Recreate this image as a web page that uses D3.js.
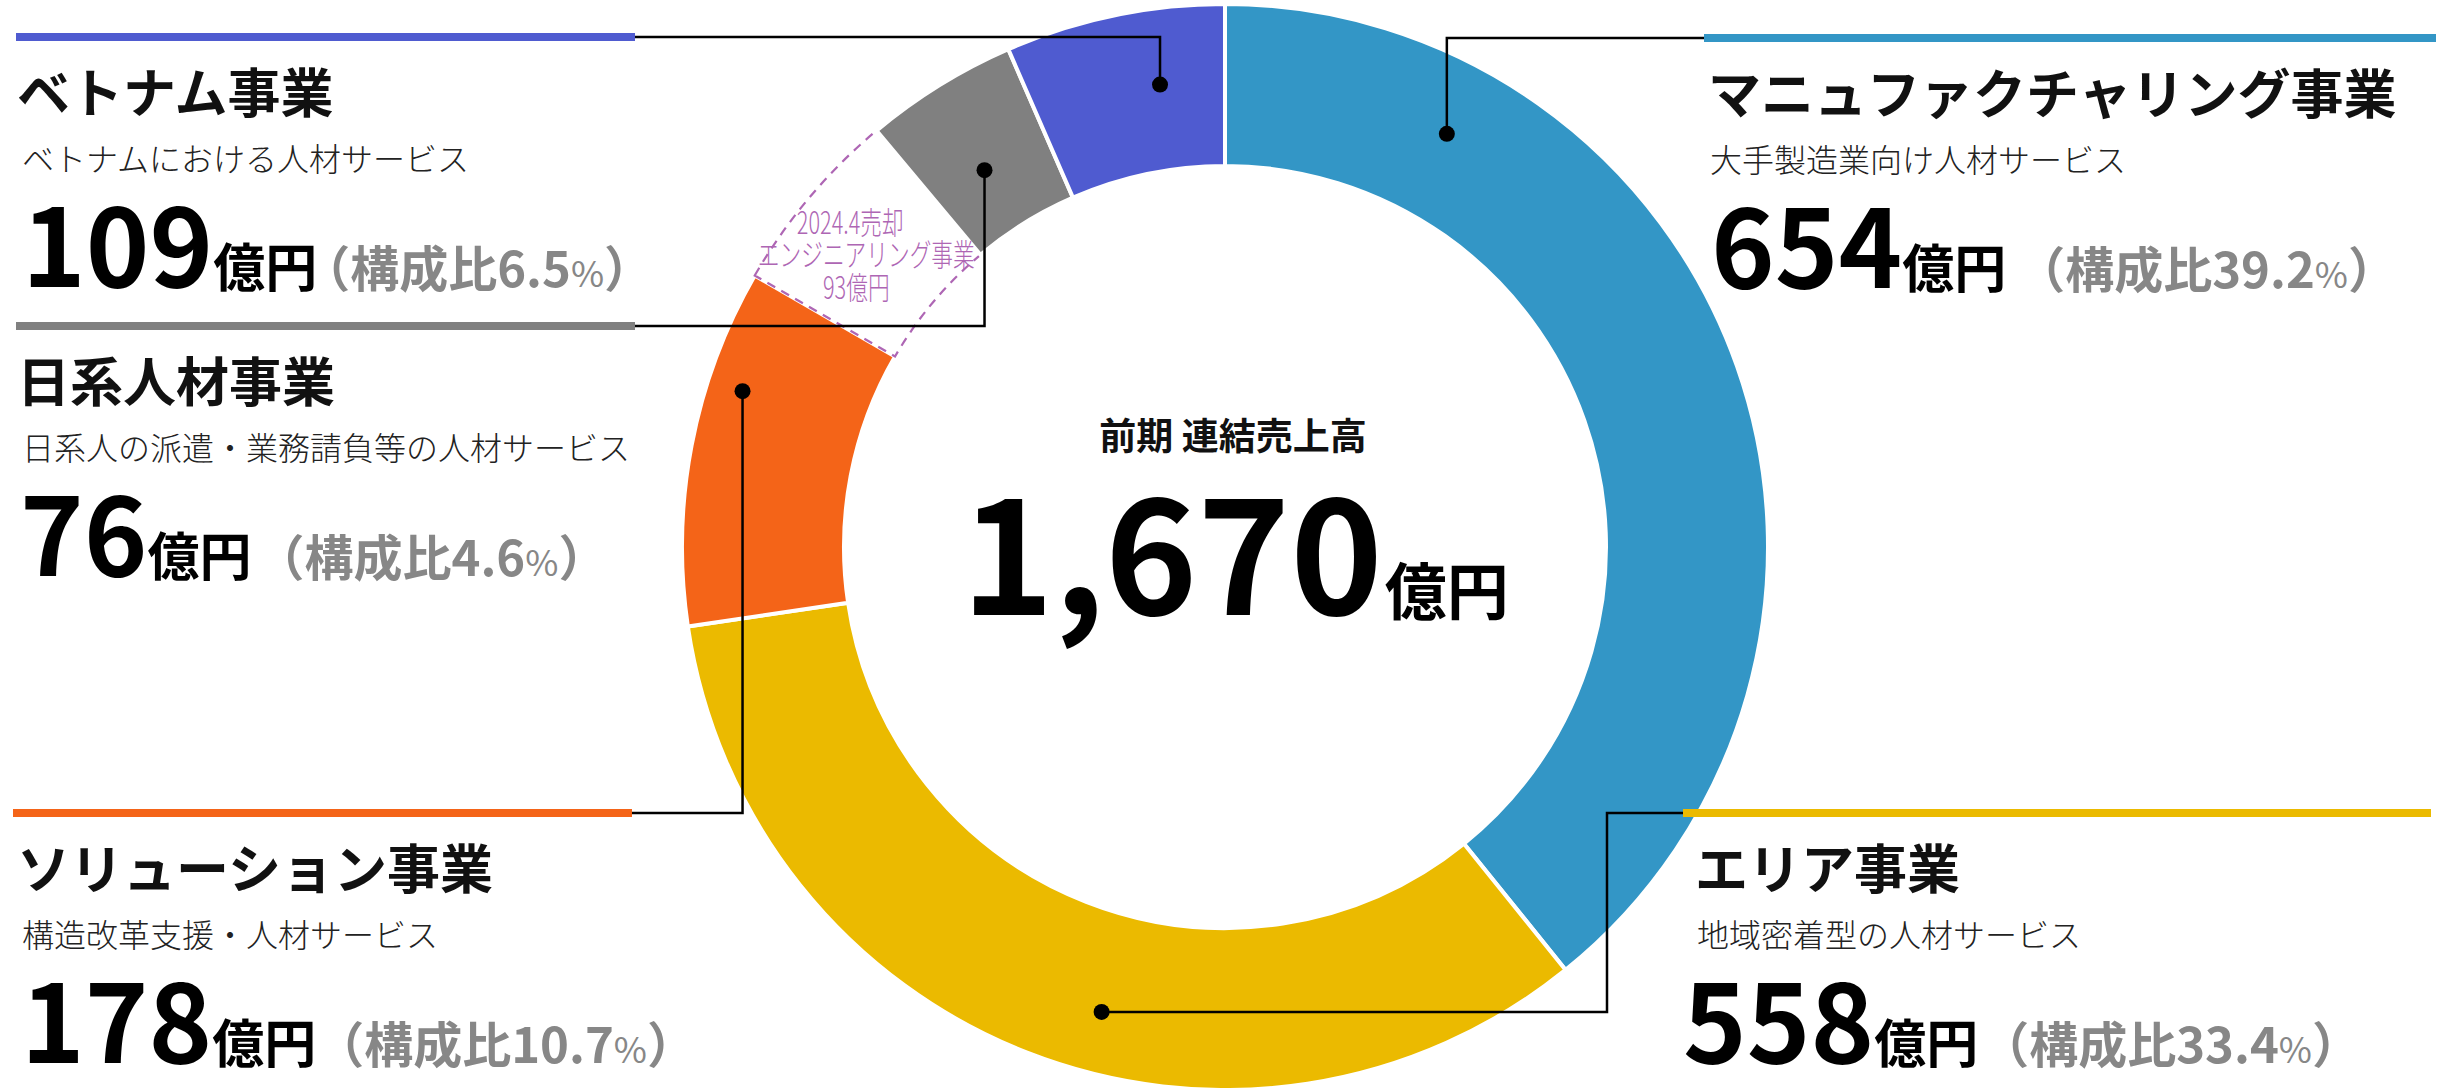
<!DOCTYPE html>
<html lang="ja">
<head>
<meta charset="utf-8">
<title>前期 連結売上高 セグメント構成</title>
<script src="https://cdn.jsdelivr.net/npm/d3@7"></script>
<style>
  html, body { margin: 0; padding: 0; background: #fff; }
  svg { display: block; font-family: "Noto Sans CJK JP", "Noto Sans", sans-serif; }
</style>
</head>
<body>
<svg id="chart" width="2445" height="1088"></svg>
<script>
// ---- data (億円) ----
const segmentNames = ["マニュファクチャリング事業", "エリア事業", "ソリューション事業", "エンジニアリング事業", "日系人材事業", "ベトナム事業"];
const salesOku = [654, 558, 178, 93, 76, 109];
const sharePct = [39.2, 33.4, 10.7, null, 4.6, 6.5];
const descriptions = ["大手製造業向け人材サービス", "地域密着型の人材サービス", "構造改革支援・人材サービス", null, "日系人の派遣・業務請負等の人材サービス", "ベトナムにおける人材サービス"];
const soldSegment = [false, false, false, true, false, false];
const soldNote = "2024.4売却";
const totalTitle = "前期 連結売上高";
const totalOku = 1670;
const unit = "億円";

// ---- styles ----
const colors = ["#3396C6", "#EBBA00", "#F46418", "#FFFFFF", "#808080", "#4F5BD0"];
const soldColor = "#AE66B4";
const shareColor = "#878787";

// ---- layout ----
const W = 2445, H = 1088;
const cx = 1225, cy = 547, rOuter = 543, rInner = 381;

// where each callout sits; anchor = [fraction along the slice, radius]
const labelLayout = [
  { side: "right", barX: [1704, 2436], barY: 38,  titleX: 1708, subX: 1710, valueX: 1711, shareDX: 10,  anchor: [0.20, 469] },
  { side: "right", barX: [1683, 2431], barY: 813, titleX: 1695, subX: 1697, valueX: 1683, shareDX: 2,   anchor: [0.446, 481], elbowX: 1607 },
  { side: "left",  barX: [13, 632],    barY: 813, titleX: 17,   subX: 22,   valueX: 21,   shareDX: -1,  anchor: [0.685, 507] },
  null,
  { side: "left",  barX: [16, 635],    barY: 326, titleX: 17,   subX: 22,   valueX: 20,   shareDX: 4,   anchor: [0.45, 447] },
  { side: "left",  barX: [16, 635],    barY: 37,  titleX: 17,   subX: 22,   valueX: 22,   shareDX: -16, anchor: [0.66, 467] }
];

const svg = d3.select("#chart");
const fmtShare = d3.format(".1f");

const rows = segmentNames.map((name, i) => ({
  name, value: salesOku[i], share: sharePct[i], desc: descriptions[i],
  sold: soldSegment[i], color: colors[i], layout: labelLayout[i]
}));

const pie = d3.pie().value(d => d.value).sort(null);
const arcs = pie(rows);
const arc = d3.arc().innerRadius(rInner).outerRadius(rOuter);

// ---- donut ----
const ring = svg.append("g").attr("transform", `translate(${cx},${cy})`);
ring.selectAll("path.slice")
  .data(arcs)
  .join("path")
  .attr("class", "slice")
  .attr("d", arc)
  .attr("fill", d => d.data.color)
  .attr("stroke", d => d.data.sold ? soldColor : "#fff")
  .attr("stroke-width", d => d.data.sold ? 2.2 : 4)
  .attr("stroke-dasharray", d => d.data.sold ? "9 7" : null)
  .attr("stroke-linejoin", "miter");

// note inside the divested slice
arcs.filter(d => d.data.sold).forEach(d => {
  const [mx, my] = arc.centroid(d);
  const sx = 0.7;
  const g = ring.append("g")
    .attr("transform", `translate(${mx - 15},${my}) scale(${sx},1)`)
    .attr("fill", soldColor)
    .attr("font-size", 31)
    .attr("font-weight", 300)
    .attr("text-anchor", "middle");
  const lines = [soldNote, d.data.name, d.data.value + unit];
  const offsets = [-16, 16, 49];
  const shifts = [-6, 10, 0];
  lines.forEach((t, k) => {
    g.append("text").attr("x", shifts[k] / sx).attr("y", offsets[k]).text(t);
  });
});

// ---- callouts ----
function anchorPoint(d) {
  const [t, r] = d.data.layout.anchor;
  const a = d.startAngle + (d.endAngle - d.startAngle) * t;
  return [cx + r * Math.sin(a), cy - r * Math.cos(a)];
}

const callouts = arcs.filter(d => d.data.layout);
const line = d3.line();

callouts.forEach(d => {
  const L = d.data.layout;
  const [px, py] = anchorPoint(d);
  const barInner = L.side === "left" ? L.barX[1] : L.barX[0];
  const pts = L.elbowX !== undefined
    ? [[px, py], [L.elbowX, py], [L.elbowX, L.barY], [barInner, L.barY]]
    : [[px, py], [px, L.barY], [barInner, L.barY]];

  svg.append("path")
    .attr("d", line(pts))
    .attr("fill", "none")
    .attr("stroke", "#000")
    .attr("stroke-width", 2.5);

  svg.append("circle")
    .attr("cx", px).attr("cy", py).attr("r", 8)
    .attr("fill", "#000");

  // colour bar
  svg.append("rect")
    .attr("x", L.barX[0]).attr("y", L.barY - 4)
    .attr("width", L.barX[1] - L.barX[0]).attr("height", 8)
    .attr("fill", d.data.color);

  // segment name
  svg.append("text")
    .attr("x", L.titleX).attr("y", L.barY + 76)
    .attr("font-size", 53).attr("font-weight", 700).attr("fill", "#111")
    .text(d.data.name);

  // description
  svg.append("text")
    .attr("x", L.subX).attr("y", L.barY + 134)
    .attr("font-size", 32).attr("font-weight", 300).attr("fill", "#222")
    .text(d.data.desc);

  // value + share
  const v = svg.append("text")
    .attr("x", L.valueX).attr("y", L.barY + 250)
    .attr("font-weight", 700).attr("fill", "#000");
  v.append("tspan").attr("font-size", 108).text(d.data.value);
  v.append("tspan").attr("font-size", 52).text(unit);
  const s = v.append("tspan").attr("dx", L.shareDX).attr("font-size", 49).attr("fill", shareColor);
  s.append("tspan").text("（構成比" + fmtShare(d.data.share));
  s.append("tspan").attr("font-size", 36).attr("font-weight", 400).text("%");
  s.append("tspan").text("）");
});

// ---- centre total ----
svg.append("text")
  .attr("x", 1233).attr("y", 450)
  .attr("text-anchor", "middle")
  .attr("font-size", 37).attr("font-weight", 700).attr("fill", "#111")
  .text(totalTitle);

const total = svg.append("text")
  .attr("x", 1235).attr("y", 615)
  .attr("text-anchor", "middle")
  .attr("font-weight", 700).attr("fill", "#000");
total.append("tspan").attr("font-size", 157).text(d3.format(",")(totalOku));
total.append("tspan").attr("font-size", 62).attr("dx", 2).text(unit);
</script>
</body>
</html>
